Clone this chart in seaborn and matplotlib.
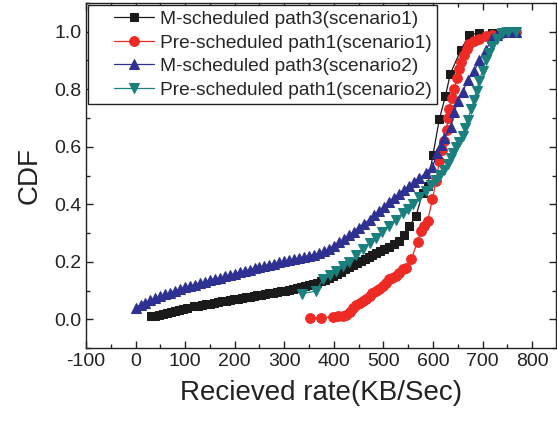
import numpy as np
import pandas as pd
import matplotlib
matplotlib.use("Agg")
import matplotlib.pyplot as plt
from matplotlib.ticker import MultipleLocator
from matplotlib.lines import Line2D
from matplotlib.legend_handler import HandlerLine2D
import seaborn as sns

# M-scheduled path3 (scenario1)
black_x = [31, 39, 47, 55, 63, 71, 79, 87, 95, 103, 118, 126, 134, 142, 150, 158, 166, 174, 182, 190,
           198, 206, 214, 222, 230, 238, 246, 254, 262, 270, 278, 286, 294, 302, 310, 318, 326, 334, 342, 350,
           358, 366, 374, 382, 390, 398, 406, 414, 422, 430, 438, 446, 454, 462, 470, 478, 486, 494, 502, 512,
           522, 532, 542, 552, 566, 579, 589, 600, 613, 625, 635, 656, 673, 693, 720, 745, 767]
black_y = [0.010, 0.013, 0.016, 0.019, 0.022, 0.026, 0.029, 0.032, 0.036, 0.040, 0.045, 0.047, 0.050, 0.052,
           0.054, 0.057, 0.059, 0.062, 0.064, 0.066, 0.069, 0.071, 0.073, 0.076, 0.078, 0.080, 0.083, 0.085,
           0.088, 0.090, 0.092, 0.095, 0.097, 0.100, 0.102, 0.105, 0.108, 0.112, 0.116, 0.120, 0.124, 0.128,
           0.132, 0.137, 0.144, 0.151, 0.158, 0.166, 0.174, 0.182, 0.190, 0.197, 0.204, 0.211, 0.218, 0.224,
           0.230, 0.236, 0.243, 0.252, 0.262, 0.272, 0.292, 0.324, 0.360, 0.440, 0.463, 0.572, 0.697, 0.775,
           0.854, 0.935, 0.990, 0.995, 0.997, 0.999, 1.000]

# Pre-scheduled path1 (scenario1)
red_x = [351, 374, 398, 408, 418, 425, 432, 438, 445, 452, 458, 465, 472, 478, 485, 492, 499, 505, 512, 518,
         525, 532, 539, 546, 556, 569, 576, 582, 589, 599, 606, 613, 618, 623, 628, 630, 632, 638, 643, 648,
         652, 657, 663, 668, 673, 683, 693, 707, 720, 740, 767]
red_y = [0.006, 0.006, 0.009, 0.010, 0.012, 0.014, 0.025, 0.040, 0.050, 0.058, 0.065, 0.072, 0.081, 0.090,
         0.098, 0.106, 0.116, 0.126, 0.140, 0.145, 0.150, 0.162, 0.174, 0.180, 0.208, 0.270, 0.307, 0.325,
         0.341, 0.417, 0.480, 0.550, 0.590, 0.620, 0.660, 0.700, 0.730, 0.770, 0.800, 0.840, 0.870, 0.895,
         0.920, 0.940, 0.958, 0.968, 0.975, 0.984, 0.990, 0.995, 1.000]

# M-scheduled path3 (scenario2)
blue_x = [0, 10, 20, 30, 40, 50, 60, 70, 80, 90, 100, 110, 120, 130, 140, 150, 160, 170, 180, 190, 200,
          210, 220, 230, 240, 250, 260, 270, 280, 290, 300, 310, 320, 330, 340, 350, 360, 370, 380, 390, 400,
          410, 420, 430, 440, 450, 460, 472, 482, 492, 502, 512, 522, 532, 542, 552, 562, 572, 586, 599, 609,
          616, 623, 636, 643, 650, 660, 670, 683, 693, 707, 720, 730, 740, 755, 767]
blue_y = [0.040, 0.050, 0.058, 0.066, 0.074, 0.080, 0.087, 0.093, 0.099, 0.105, 0.111, 0.116, 0.121, 0.126,
          0.131, 0.136, 0.140, 0.145, 0.150, 0.154, 0.159, 0.163, 0.168, 0.172, 0.177, 0.181, 0.186, 0.190,
          0.194, 0.198, 0.202, 0.205, 0.209, 0.213, 0.217, 0.221, 0.225, 0.229, 0.236, 0.245, 0.256, 0.268,
          0.280, 0.292, 0.305, 0.318, 0.331, 0.347, 0.362, 0.377, 0.392, 0.408, 0.423, 0.436, 0.450, 0.463,
          0.476, 0.490, 0.510, 0.530, 0.580, 0.605, 0.630, 0.670, 0.720, 0.758, 0.790, 0.833, 0.862, 0.900,
          0.937, 0.978, 0.990, 1.000, 1.000, 1.000]

# Pre-scheduled path1 (scenario2)
teal_x = [335, 364, 378, 392, 405, 418, 431, 445, 458, 472, 485, 498, 512, 525, 539, 549, 559, 572, 586, 596,
          606, 615, 623, 630, 636, 641, 646, 653, 660, 665, 670, 677, 683, 688, 693, 700, 707, 713, 720, 730,
          740, 752, 767]
teal_y = [0.089, 0.098, 0.139, 0.153, 0.168, 0.184, 0.200, 0.222, 0.243, 0.264, 0.284, 0.304, 0.324, 0.347,
          0.370, 0.382, 0.400, 0.425, 0.445, 0.466, 0.486, 0.503, 0.520, 0.540, 0.560, 0.580, 0.600, 0.618,
          0.637, 0.665, 0.694, 0.730, 0.764, 0.795, 0.827, 0.865, 0.903, 0.926, 0.949, 0.975, 0.995, 1.000,
          1.000]

labels = ["M-scheduled path3(scenario1)", "Pre-scheduled path1(scenario1)",
          "M-scheduled path3(scenario2)", "Pre-scheduled path1(scenario2)"]

sns.set_style("ticks")
plt.rcParams["font.family"] = ["Liberation Sans", "DejaVu Sans"]
plt.rcParams["axes.unicode_minus"] = False

fig = plt.figure(figsize=(5.57, 4.25), dpi=100)
ax = fig.add_axes([0.1544, 0.181, 0.8436, 0.812])

series = [
    (black_x, black_y, "#1a1a1a", "s", 5.8),
    (red_x, red_y, "#ee2a24", "o", 7.0),
    (blue_x, blue_y, "#2e3192", "^", 7.5),
    (teal_x, teal_y, "#1a807e", "v", 7.5),
]

for (xs, ys, col, mk, ms), lab in zip(series, labels):
    df = pd.DataFrame({"x": xs, "y": ys})
    sns.lineplot(data=df, x="x", y="y", ax=ax, color=col, marker=mk, markersize=ms,
                 markeredgecolor=col, linewidth=0.9, sort=False, estimator=None, label=lab)

ax.set_xlim(-100, 848)
ax.set_ylim(-0.1, 1.1)
ax.xaxis.set_major_locator(MultipleLocator(100))
ax.xaxis.set_minor_locator(MultipleLocator(50))
ax.yaxis.set_major_locator(MultipleLocator(0.2))
ax.yaxis.set_minor_locator(MultipleLocator(0.1))
ax.yaxis.set_major_formatter(plt.FuncFormatter(lambda v, p: f"{v:.1f}"))
ax.tick_params(which="both", direction="in", top=True, right=True, labelsize=14, colors="#222222",
               labelcolor="#222222")
ax.tick_params(which="major", length=5, width=1)
ax.tick_params(which="minor", length=3, width=1)
for sp in ax.spines.values():
    sp.set_linewidth(1.0)
    sp.set_color("#222222")

ax.set_xlabel("Recieved rate(KB/Sec)", fontsize=20, color="#222222", labelpad=7)
ax.set_ylabel("CDF", fontsize=20, color="#222222", labelpad=8)

leg = ax.legend(loc="upper left", fontsize=13.8, frameon=True, fancybox=False, borderaxespad=0.1,
                labelspacing=0.32, handlelength=3.15, handletextpad=0.3, borderpad=0.3,
                handler_map={Line2D: HandlerLine2D(xpad=1.07)})
leg.get_frame().set_edgecolor("#222222")
leg.get_frame().set_linewidth(1.0)
leg.get_frame().set_alpha(1)

fig.savefig("out.png", dpi=100)
